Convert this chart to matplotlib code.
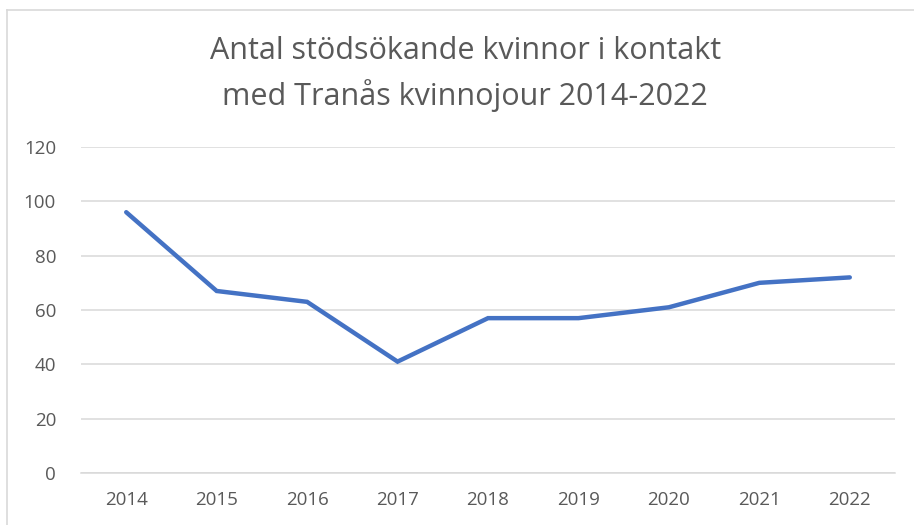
import matplotlib
matplotlib.use("Agg")
import matplotlib.pyplot as plt
from matplotlib.lines import Line2D

# data
years = ["2014", "2015", "2016", "2017", "2018", "2019", "2020", "2021", "2022"]
women = [96, 67, 63, 41, 57, 57, 61, 70, 72]
yticks = [0, 20, 40, 60, 80, 100, 120]
title = "Antal stödsökande kvinnor i kontakt\nmed Tranås kvinnojour 2014-2022"

plt.rcParams["font.family"] = ["Open Sans", "DejaVu Sans"]
text_col = "#595959"
grid_col = "#d9d9d9"

fig = plt.figure(figsize=(9.14, 5.25), dpi=100)
ax = fig.add_axes([81 / 914, 1 - 473 / 525, (895 - 81) / 914, (473 - 147) / 525])

x = list(range(len(years)))
ax.plot(x, women, color="#4472c4", linewidth=3.2, solid_capstyle="round", solid_joinstyle="miter", zorder=3)

ax.set_xlim(-0.5, len(years) - 0.5)
ax.set_ylim(0, 120)
ax.set_yticks(yticks)
ax.set_xticks(x)
ax.set_xticklabels(years)
ax.yaxis.grid(True, color=grid_col, linewidth=1.1)
ax.set_axisbelow(True)
for s in ["top", "right", "left"]:
    ax.spines[s].set_visible(False)
ax.spines["bottom"].set_color(grid_col)
ax.spines["bottom"].set_linewidth(1.1)
ax.tick_params(axis="both", length=0, labelsize=13.5, colors=text_col)
ax.tick_params(axis="x", pad=13)
ax.tick_params(axis="y", pad=18)

fig.text(0.509, 1 - 74 / 525, title, ha="center", va="center", fontsize=22,
         color=text_col, linespacing=1.5)

# chart frame edges (top and left visible in the reference)
fig.add_artist(Line2D([7 / 914, 1.0], [1 - 10 / 525, 1 - 10 / 525], transform=fig.transFigure, color=grid_col, linewidth=1.2))
fig.add_artist(Line2D([7.5 / 914, 7.5 / 914], [0, 1 - 10 / 525], transform=fig.transFigure, color=grid_col, linewidth=1.2))

fig.savefig("out.png", dpi=100)
